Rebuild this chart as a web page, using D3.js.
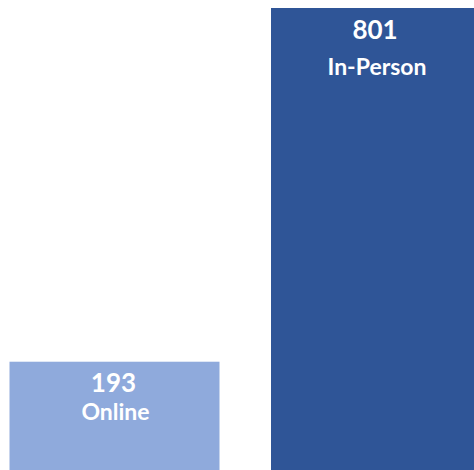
<!DOCTYPE html>
<html>
<head>
<meta charset="utf-8">
<script src="https://cdn.jsdelivr.net/npm/d3@7"></script>
<style>
  html, body { margin: 0; padding: 0; background: #ffffff; overflow: hidden; }
  svg { display: block; }
</style>
</head>
<body>
<svg></svg>
<script>
// Chart data
const categories = ["Online", "In-Person"];
const values = [193, 801];
const colors = ["#8FAADC", "#2F5597"];

const svgWidth = 474, svgHeight = 470;

const svg = d3.select("svg")
    .attr("width", svgWidth)
    .attr("height", svgHeight);

// Bars are cut off at the right and bottom edge, like the original picture
const xScale = d3.scaleBand()
    .domain(categories)
    .range([9.5, 481])
    .paddingInner(0.197)
    .paddingOuter(0);

const yScale = d3.scaleLinear()
    .domain([0, 801])
    .range([474, 8]);

const data = categories.map((c, i) => ({ name: c, value: values[i], color: colors[i] }));

const bars = svg.selectAll(".bar-group")
    .data(data)
    .enter()
    .append("g")
    .attr("class", "bar-group");

bars.append("rect")
    .attr("x", d => xScale(d.name))
    .attr("y", d => yScale(d.value))
    .attr("width", xScale.bandwidth())
    .attr("height", d => yScale(0) - yScale(d.value))
    .attr("fill", d => d.color);

// Value label
bars.append("text")
    .attr("x", d => xScale(d.name) + xScale.bandwidth() / 2 - 1)
    .attr("y", d => yScale(d.value) + 30.5)
    .attr("text-anchor", "middle")
    .attr("fill", "#ffffff")
    .style("font-family", "Lato, 'Open Sans', sans-serif")
    .style("font-weight", "bold")
    .style("font-size", "26px")
    .text(d => d.value);

// Category label
bars.append("text")
    .attr("x", d => xScale(d.name) + xScale.bandwidth() / 2 + 1)
    .attr("y", (d, i) => yScale(d.value) + (i === 0 ? 58 : 67))
    .attr("text-anchor", "middle")
    .attr("fill", "#ffffff")
    .style("font-family", "Lato, 'Open Sans', sans-serif")
    .style("font-weight", "bold")
    .style("font-size", "23px")
    .text(d => d.name);
</script>
</body>
</html>
